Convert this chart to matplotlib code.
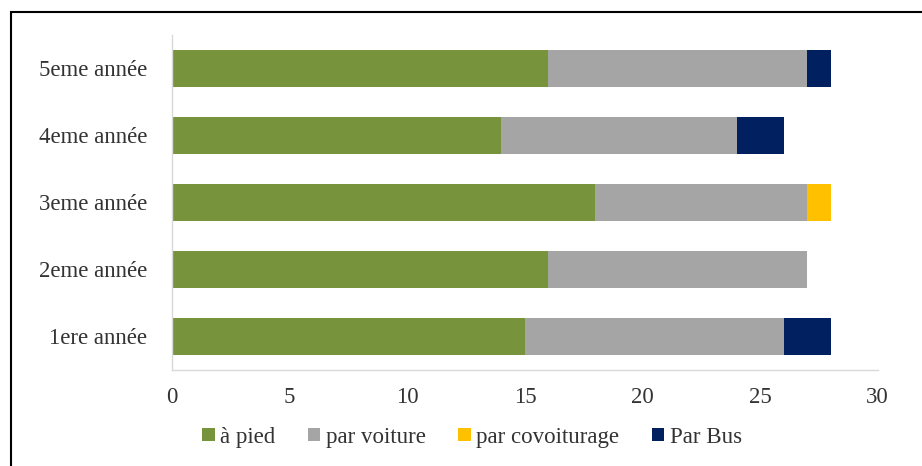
import numpy as np
import matplotlib.pyplot as plt
from matplotlib.patches import Rectangle

plt.rcParams["font.family"] = ["Liberation Serif", "DejaVu Serif"]

# Data
categories = ["1ere année", "2eme année", "3eme année", "4eme année", "5eme année"]
a_pied = [15, 16, 18, 14, 16]
par_voiture = [11, 11, 9, 10, 11]
par_covoiturage = [0, 0, 1, 0, 0]
par_bus = [2, 0, 0, 2, 1]

series = [
    ("à pied", a_pied, "#77933C"),
    ("par voiture", par_voiture, "#A5A5A5"),
    ("par covoiturage", par_covoiturage, "#FFC000"),
    ("Par Bus", par_bus, "#002060"),
]

fig = plt.figure(figsize=(9.22, 4.66), dpi=100)
ax = fig.add_axes([0.1866, 0.206, 0.7654, 0.719])

y = np.arange(len(categories))
left = np.zeros(len(categories))
for label, vals, color in series:
    ax.barh(y, vals, left=left, height=0.55, color=color, label=label)
    left += np.array(vals)

ax.set_xlim(0, 30)
ax.set_ylim(-0.5, len(categories) - 0.5)
ax.set_xticks(range(0, 31, 5))
ax.set_yticks(y)
ax.set_yticklabels(categories)
ax.tick_params(axis="both", length=0, labelsize=16.5, colors="#333333")
ax.tick_params(axis="x", pad=12)
ax.tick_params(axis="y", pad=18)

for s in ["top", "right"]:
    ax.spines[s].set_visible(False)
for s in ["left", "bottom"]:
    ax.spines[s].set_color("#D9D9D9")
    ax.spines[s].set_linewidth(1)

leg = fig.legend(loc="center", bbox_to_anchor=(0.512, 0.062), ncol=4, frameon=False,
                 fontsize=16.5, handlelength=0.55, handleheight=0.55, handletextpad=0.25,
                 columnspacing=1.4)
for t in leg.get_texts():
    t.set_color("#333333")

# frame around the figure (left and top edges visible)
fig.patches.append(Rectangle((11 / 922, -0.1), 1.2, 1 - 12 / 466 + 0.1,
                             transform=fig.transFigure, fill=False,
                             edgecolor="black", linewidth=1.5))

fig.savefig("out.png", dpi=100)
